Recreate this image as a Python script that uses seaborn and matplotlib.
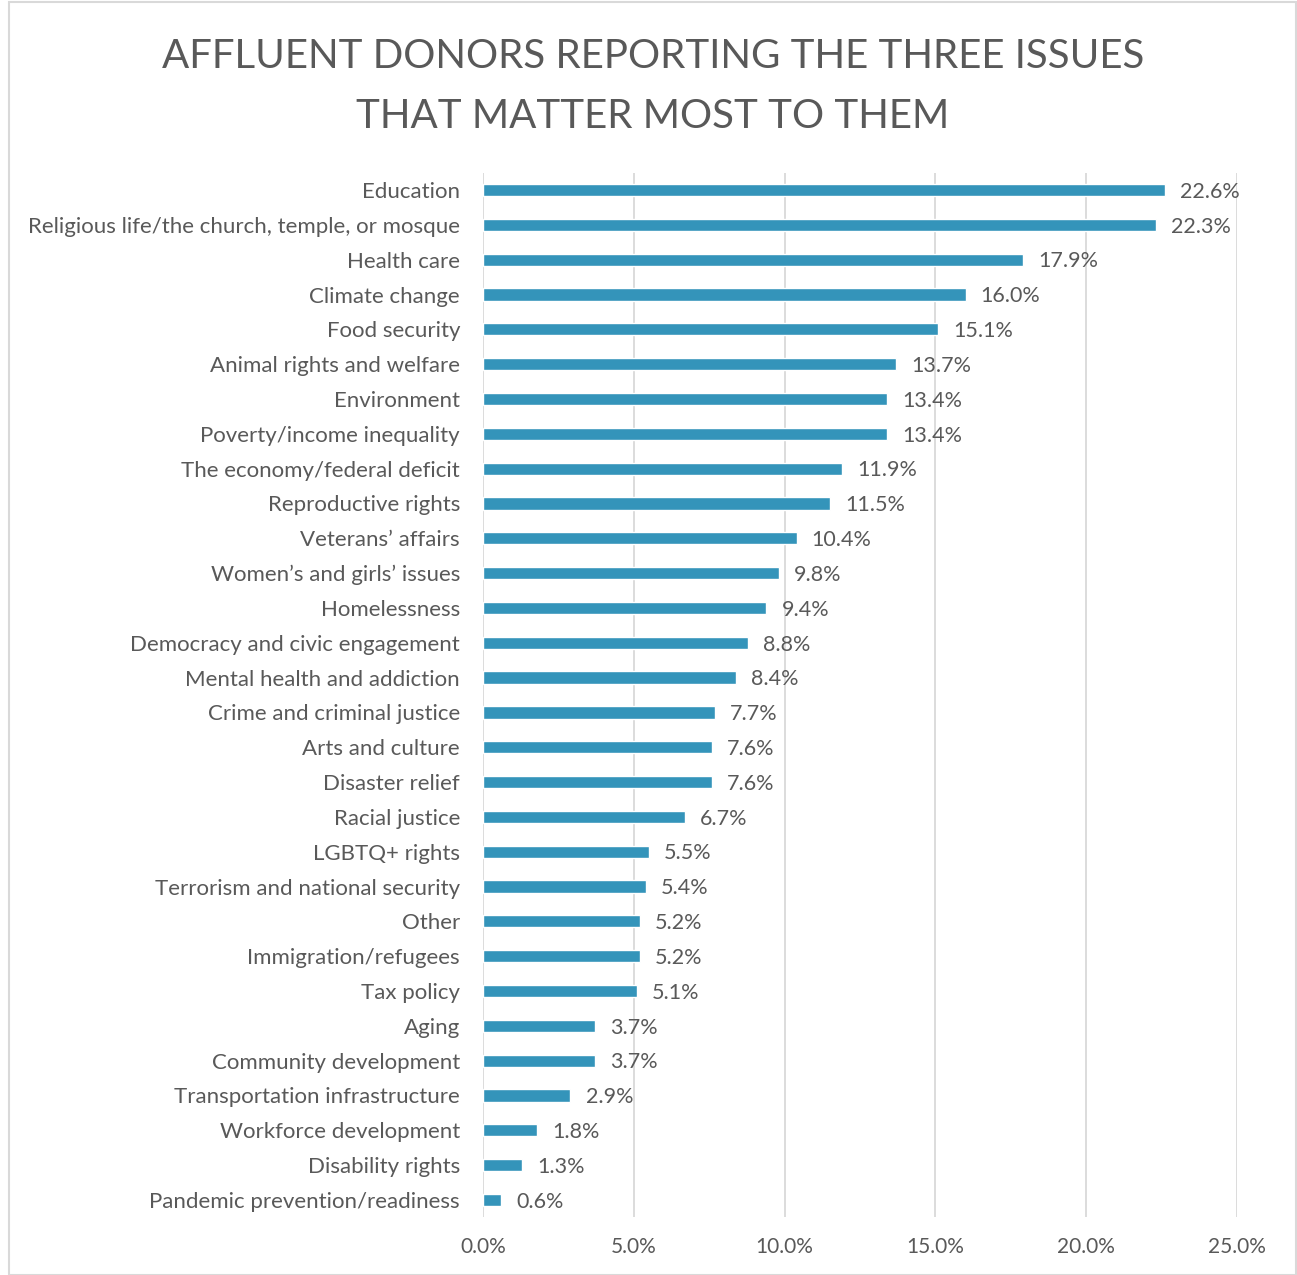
import numpy as np
import pandas as pd
import matplotlib.pyplot as plt
import seaborn as sns
from matplotlib.patches import Rectangle
from matplotlib.ticker import FuncFormatter

# data
issues = ["Education", "Religious life/the church, temple, or mosque", "Health care",
          "Climate change", "Food security", "Animal rights and welfare", "Environment",
          "Poverty/income inequality", "The economy/federal deficit", "Reproductive rights",
          "Veterans\u2019 affairs", "Women\u2019s and girls\u2019 issues", "Homelessness",
          "Democracy and civic engagement", "Mental health and addiction",
          "Crime and criminal justice", "Arts and culture", "Disaster relief",
          "Racial justice", "LGBTQ+ rights", "Terrorism and national security", "Other",
          "Immigration/refugees", "Tax policy", "Aging", "Community development",
          "Transportation infrastructure", "Workforce development", "Disability rights",
          "Pandemic prevention/readiness"]
pct = [22.6, 22.3, 17.9, 16.0, 15.1, 13.7, 13.4, 13.4, 11.9, 11.5, 10.4, 9.8, 9.4, 8.8,
       8.4, 7.7, 7.6, 7.6, 6.7, 5.5, 5.4, 5.2, 5.2, 5.1, 3.7, 3.7, 2.9, 1.8, 1.3, 0.6]

df = pd.DataFrame({"issue": issues, "pct": pct})

sns.set_style("white")
plt.rcParams['font.family'] = ['Lato', 'DejaVu Sans']
txt = "#595959"

fig = plt.figure(figsize=(12.97, 12.75), dpi=100)
ax = fig.add_axes([0.3724, 0.0452, 0.5813, 0.8194])

sns.barplot(data=df, x="pct", y="issue", color="#3494BA", saturation=1, width=0.35, ax=ax)

ax.set_xlim(0, 25)
ax.set_xticks(np.arange(0, 25.1, 5))
ax.xaxis.set_major_formatter(FuncFormatter(lambda v, p: f"{v:.1f}%"))
ax.grid(axis="x", color="#D9D9D9", linewidth=1.3)
ax.set_axisbelow(True)
for s in ax.spines.values():
    s.set_visible(False)
ax.set_xlabel("")
ax.set_ylabel("")
ax.tick_params(axis="x", length=0, pad=14, labelsize=15, labelcolor=txt)
ax.tick_params(axis="y", length=0, pad=16.5, labelsize=16, labelcolor=txt)

# value labels next to each bar
for i, v in enumerate(pct):
    ax.text(v + 0.5, i + 0.05, f"{v:.1f}%", va="center", ha="left", fontsize=15.5, color=txt)

fig.text(0.5035, 0.9555, "AFFLUENT DONORS REPORTING THE THREE ISSUES", ha="center",
         va="center", fontsize=29, color=txt)
fig.text(0.5035, 0.909, "THAT MATTER MOST TO THEM", ha="center",
         va="center", fontsize=29, color=txt)

fig.patches.append(Rectangle((9 / 1297, 0.0), 1287 / 1297, 1 - 2 / 1275, transform=fig.transFigure,
                             fill=False, edgecolor="#D9D9D9", linewidth=1.5))

fig.savefig("out.png", dpi=100)
